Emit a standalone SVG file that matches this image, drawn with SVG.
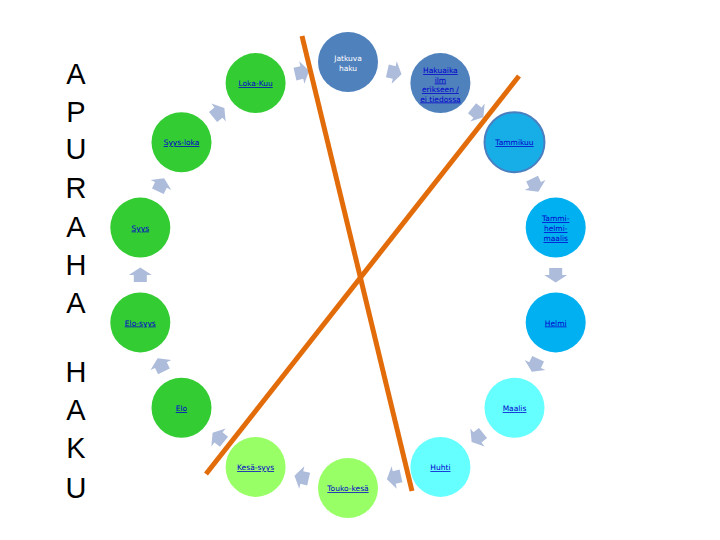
<svg xmlns="http://www.w3.org/2000/svg" xmlns:xlink="http://www.w3.org/1999/xlink" width="720" height="540" viewBox="0 0 720 540">
<style>
.steel{fill:#4f81bd}
.jan{fill:#17aee8;stroke:#4a7fc0;stroke-width:2}
.sky{fill:#00b0f0}
.cyan{fill:#66ffff}
.lime{fill:#99ff66}
.green{fill:#33cc33}
.lbl{font-family:"DejaVu Sans",Verdana,sans-serif;font-size:7.5px;text-anchor:middle;fill:#0000cc;text-decoration:underline}
.wlbl{font-family:"DejaVu Sans",Verdana,sans-serif;font-size:7.5px;text-anchor:middle;fill:#ffffff}
.big{font-family:"Liberation Sans",Arial,sans-serif;font-size:29px;text-anchor:middle;fill:#000000}
.arr{fill:#adbcdb}
.orange{stroke:#e36c0a;stroke-width:5;stroke-linecap:butt;fill:none}
</style>
<defs>
<path id="arrow" class="arr" d="M-7,-6.5 H0 V-11.5 L7.5,0 L0,11.5 V6.5 H-7 Z"/>
</defs>
<rect width="720" height="540" fill="#ffffff"/>
<g id="title">
<text class="big" x="76" y="84">A</text>
<text class="big" x="76" y="122">P</text>
<text class="big" x="76" y="159">U</text>
<text class="big" x="76" y="198">R</text>
<text class="big" x="76" y="237">A</text>
<text class="big" x="76" y="275">H</text>
<text class="big" x="76" y="313">A</text>
<text class="big" x="76" y="382">H</text>
<text class="big" x="76" y="420">A</text>
<text class="big" x="76" y="458">K</text>
<text class="big" x="76" y="498">U</text>
</g>
<g id="connectors">
<use xlink:href="#arrow" transform="translate(394.2,72.5) rotate(12.86)"/>
<use xlink:href="#arrow" transform="translate(477.5,112.6) rotate(38.57)"/>
<use xlink:href="#arrow" transform="translate(535.1,184.9) rotate(64.29)"/>
<use xlink:href="#arrow" transform="translate(555.7,275) rotate(90)"/>
<use xlink:href="#arrow" transform="translate(535.1,365.1) rotate(115.71)"/>
<use xlink:href="#arrow" transform="translate(477.5,437.4) rotate(141.43)"/>
<use xlink:href="#arrow" transform="translate(394.2,477.5) rotate(167.14)"/>
<use xlink:href="#arrow" transform="translate(301.8,477.5) rotate(192.86)"/>
<use xlink:href="#arrow" transform="translate(218.5,437.4) rotate(218.57)"/>
<use xlink:href="#arrow" transform="translate(160.9,365.1) rotate(244.29)"/>
<use xlink:href="#arrow" transform="translate(140.3,275) rotate(270)"/>
<use xlink:href="#arrow" transform="translate(160.9,184.9) rotate(295.71)"/>
<use xlink:href="#arrow" transform="translate(218.5,112.6) rotate(321.43)"/>
<use xlink:href="#arrow" transform="translate(301.8,72.5) rotate(347.14)"/>
</g>
<g id="n-jatkuva"><circle class="steel" cx="348" cy="62" r="30"/><text class="wlbl" x="348" y="61">Jatkuva</text><text class="wlbl" x="348" y="71">haku</text></g>
<g id="n-hakuaika"><circle class="steel" cx="440.4" cy="83.1" r="30"/><text class="lbl" x="440.4" y="73">Hakuaika</text><text class="lbl" x="440.4" y="82.5">ilm</text><text class="lbl" x="440.4" y="92">erikseen /</text><text class="lbl" x="440.4" y="101.5">ei tiedossa</text></g>
<g id="n-tammikuu"><circle class="jan" cx="514.5" cy="142.2" r="30"/><text class="lbl" x="514.5" y="145">Tammikuu</text></g>
<g id="n-tammihelmimaalis"><circle class="sky" cx="555.7" cy="227.6" r="30"/><text class="lbl" x="555.7" y="221">Tammi-</text><text class="lbl" x="555.7" y="231">helmi-</text><text class="lbl" x="555.7" y="241">maalis</text></g>
<g id="n-helmi"><circle class="sky" cx="555.7" cy="322.4" r="30"/><text class="lbl" x="555.7" y="325.5">Helmi</text></g>
<g id="n-maalis"><circle class="cyan" cx="514.5" cy="407.8" r="30"/><text class="lbl" x="514.5" y="411">Maalis</text></g>
<g id="n-huhti"><circle class="cyan" cx="440.4" cy="466.9" r="30"/><text class="lbl" x="440.4" y="470">Huhti</text></g>
<g id="n-toukokesa"><circle class="lime" cx="348" cy="488" r="30"/><text class="lbl" x="348" y="491">Touko-kesä</text></g>
<g id="n-kesasyys"><circle class="lime" cx="255.6" cy="466.9" r="30"/><text class="lbl" x="255.6" y="470">Kesä-syys</text></g>
<g id="n-elo"><circle class="green" cx="181.5" cy="407.8" r="30"/><text class="lbl" x="181.5" y="411">Elo</text></g>
<g id="n-elosyys"><circle class="green" cx="140.3" cy="322.4" r="30"/><text class="lbl" x="140.3" y="325.5">Elo-syys</text></g>
<g id="n-syys"><circle class="green" cx="140.3" cy="227.6" r="30"/><text class="lbl" x="140.3" y="230.5">Syys</text></g>
<g id="n-syysloka"><circle class="green" cx="181.5" cy="142.2" r="30"/><text class="lbl" x="181.5" y="145">Syys-loka</text></g>
<g id="n-lokakuu"><circle class="green" cx="255.6" cy="83.1" r="30"/><text class="lbl" x="255.6" y="86">Loka-Kuu</text></g>
<g id="strokes">
<line class="orange" x1="302" y1="36" x2="412" y2="491"/>
<line class="orange" x1="519" y1="76" x2="206" y2="474"/>
</g>
</svg>
